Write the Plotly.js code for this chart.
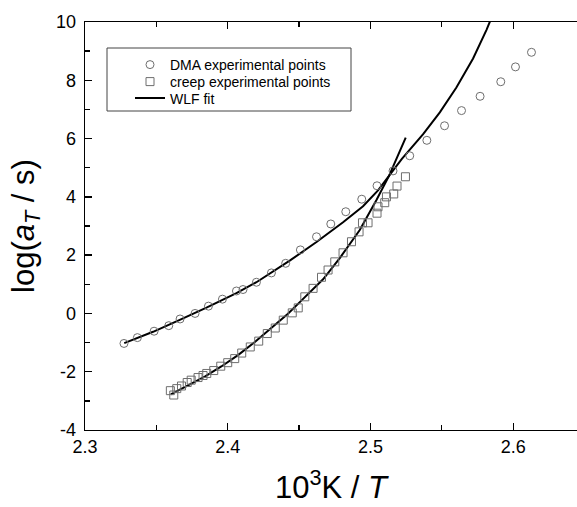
<!DOCTYPE html>
<html>
<head>
<meta charset="utf-8">
<script src="https://cdn.plot.ly/plotly-3.0.1.min.js"></script>
<style>html,body{margin:0;padding:0;background:#fff;}#chart{width:577px;height:507px;}</style>
</head>
<body>
<div id="chart"></div>
<script>
// DMA experimental points
var dmaX = [2.3273, 2.3367, 2.3484, 2.3587, 2.3666, 2.3771, 2.3865, 2.3963, 2.4061, 2.4107, 2.4201, 2.4306, 2.4406, 2.4509, 2.4622, 2.4722, 2.4827, 2.4939, 2.5046, 2.5158, 2.5275, 2.5395, 2.5519, 2.5638, 2.5768, 2.5913, 2.6016, 2.6128];
var dmaY = [-1.03, -0.83, -0.61, -0.42, -0.19, 0.00, 0.25, 0.49, 0.77, 0.82, 1.07, 1.39, 1.72, 2.18, 2.63, 3.07, 3.49, 3.92, 4.38, 4.89, 5.41, 5.94, 6.44, 6.96, 7.45, 7.95, 8.46, 8.96];
// creep experimental points
var creepX = [2.3598, 2.3622, 2.3643, 2.3676, 2.3716, 2.3744, 2.3792, 2.3827, 2.3853, 2.3902, 2.3951, 2.4000, 2.4049, 2.4098, 2.4158, 2.4217, 2.4277, 2.4333, 2.4389, 2.4452, 2.4494, 2.4540, 2.4598, 2.4657, 2.4703, 2.4750, 2.4808, 2.4867, 2.4920, 2.4944, 2.4983, 2.5046, 2.5053, 2.5100, 2.5112, 2.5163, 2.5186, 2.5245];
var creepY = [-2.65, -2.80, -2.58, -2.49, -2.37, -2.29, -2.20, -2.13, -2.06, -1.96, -1.81, -1.69, -1.55, -1.36, -1.15, -0.95, -0.69, -0.50, -0.23, 0.02, 0.19, 0.57, 0.86, 1.24, 1.49, 1.77, 2.08, 2.46, 2.80, 3.11, 3.11, 3.44, 3.66, 3.80, 4.00, 4.10, 4.37, 4.69];
// WLF fit curves
var fitDmaX = [2.3275, 2.3477, 2.3664, 2.3851, 2.4061, 2.4201, 2.4437, 2.4622, 2.4808, 2.4948, 2.5053, 2.5130, 2.5220, 2.5369, 2.5486, 2.5602, 2.5719, 2.5813, 2.5840];
var fitDmaY = [-1.02, -0.63, -0.22, 0.20, 0.70, 1.07, 1.82, 2.45, 3.13, 3.68, 4.22, 4.72, 5.30, 6.15, 6.90, 7.75, 8.75, 9.73, 10.05];
var fitCreepX = [2.3601, 2.3720, 2.3839, 2.3955, 2.4072, 2.4190, 2.4306, 2.4420, 2.4528, 2.4668, 2.4785, 2.4925, 2.5042, 2.5130, 2.5247];
var fitCreepY = [-2.78, -2.48, -2.17, -1.82, -1.43, -0.98, -0.51, -0.02, 0.50, 1.17, 1.90, 2.86, 3.89, 4.72, 6.03];

var names = ['DMA experimental points', 'creep experimental points', 'WLF fit'];
var xTicks = [2.3, 2.4, 2.5, 2.6];
var yTicks = [-4, -2, 0, 2, 4, 6, 8, 10];

var font = 'Liberation Sans, Arial, Helvetica, sans-serif';
var grey = '#6e6e6e';

var traces = [
  {x: fitDmaX, y: fitDmaY, mode: 'lines', line: {color: '#000', width: 2}, name: names[2], legend: 'legend3', showlegend: true},
  {x: fitCreepX, y: fitCreepY, mode: 'lines', line: {color: '#000', width: 2}, name: names[2], showlegend: false},
  {x: dmaX, y: dmaY, mode: 'markers', marker: {symbol: 'circle-open', size: 8, color: grey, line: {width: 1, color: grey}}, name: names[0], legend: 'legend', showlegend: true},
  {x: creepX, y: creepY, mode: 'markers', marker: {symbol: 'square-open', size: 8, color: grey, line: {width: 1, color: grey}}, name: names[1], legend: 'legend2', showlegend: true}
];

function px2x(p) { return (p - 85) / 492; }
function py2y(p) { return 1 - (p - 22) / 408; }

var legBase = {xanchor: 'left', yanchor: 'top', bgcolor: 'rgba(0,0,0,0)', borderwidth: 0, font: {family: font, size: 14, color: '#000'}};
function leg(top) { return Object.assign({}, legBase, {x: px2x(130), y: py2y(top)}); }

var layout = {
  width: 577, height: 507,
  margin: {l: 85, r: 0, t: 22, b: 77, pad: 0},
  paper_bgcolor: '#fff', plot_bgcolor: '#fff',
  font: {family: font, color: '#000'},
  showlegend: true,
  legend: leg(49),
  legend2: leg(66),
  legend3: leg(82.5),
  xaxis: {
    range: [2.3, 2.6447], tickvals: xTicks, ticktext: xTicks.map(function(v){return v.toFixed(1);}),
    ticks: 'inside', ticklen: 7, tickwidth: 1.3, tickcolor: '#000',
    minor: {dtick: 0.05, tick0: 2.3, ticks: 'inside', ticklen: 5, tickwidth: 1.3, tickcolor: '#000', showgrid: false},
    showline: true, linecolor: '#000', linewidth: 1.3, mirror: 'ticks',
    showgrid: false, zeroline: false,
    tickfont: {family: font, size: 18, color: '#000'}, ticklabelstandoff: 0,
    title: {text: '10<sup>3</sup>K / <i>T</i>', font: {family: font, size: 31, color: '#000'}, standoff: 20}
  },
  yaxis: {
    range: [-4, 10], tickvals: yTicks, ticktext: yTicks.map(String),
    ticks: 'inside', ticklen: 7, tickwidth: 1.3, tickcolor: '#000',
    minor: {dtick: 1, tick0: 0, ticks: 'inside', ticklen: 5, tickwidth: 1.3, tickcolor: '#000', showgrid: false},
    showline: true, linecolor: '#000', linewidth: 1.3, mirror: false,
    showgrid: false, zeroline: false,
    tickfont: {family: font, size: 18, color: '#000'}, ticklabelstandoff: 4,
    title: {text: 'log(<i>a</i><sub><i>T</i></sub> / s)', font: {family: font, size: 31, color: '#000'}, standoff: 12}
  },
  shapes: [
    {type: 'rect', xref: 'paper', yref: 'paper', x0: px2x(107), x1: px2x(351), y0: py2y(48), y1: py2y(111), line: {color: '#444', width: 1}, fillcolor: 'rgba(0,0,0,0)', layer: 'above'}
  ]
};

Plotly.newPlot('chart', traces, layout, {displayModeBar: false, staticPlot: true});
</script>
</body>
</html>
